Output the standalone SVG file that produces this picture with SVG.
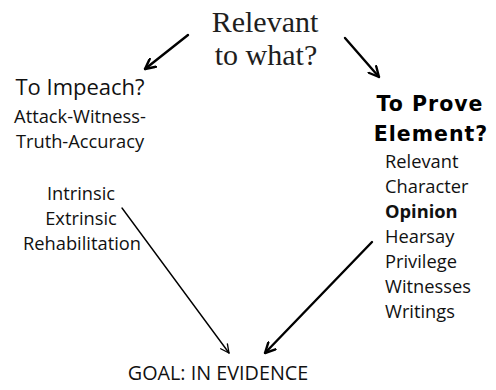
<svg xmlns="http://www.w3.org/2000/svg" width="496" height="390" viewBox="0 0 496 390">
  <style>
    .title { font-family: "Liberation Serif", "Times New Roman", serif; font-size: 30px; fill: #1e1e1e; text-anchor: middle; }
    .body { font-family: "Open Sans", "Liberation Sans", sans-serif; font-size: 18.3px; fill: #111; }
    .head { font-family: "Open Sans", "Liberation Sans", sans-serif; font-size: 22px; fill: #111; }
    .goal { font-family: "Open Sans", "Liberation Sans", sans-serif; font-size: 19.8px; fill: #111; text-anchor: middle; }
    .bold { font-family: "DejaVu Sans", Verdana, sans-serif; font-weight: bold; font-size: 20.5px; fill: #000; text-anchor: middle; letter-spacing: 1px; }
    .mid { text-anchor: middle; }
    .conn { fill: none; stroke: #000; stroke-linecap: round; }
    .thick { stroke-width: 2.4; }
    .thin { stroke-width: 1.4; }
    .head-line { fill: none; stroke: #000; stroke-linecap: round; stroke-linejoin: round; }
  </style>
  <defs>
    <marker id="arrow-thick" viewBox="0 0 12 12" refX="11" refY="6" markerWidth="12" markerHeight="12" markerUnits="userSpaceOnUse" orient="auto">
      <path d="M1,1 L11,6 L1,11" class="head-line" stroke-width="2.4"/>
    </marker>
    <marker id="arrow-thin" viewBox="0 0 12 12" refX="11" refY="6" markerWidth="10" markerHeight="10" markerUnits="userSpaceOnUse" orient="auto">
      <path d="M1,1 L11,6 L1,11" class="head-line" stroke-width="1.6"/>
    </marker>
  </defs>

  <g id="question">
    <text class="title" x="265" y="32">Relevant</text>
    <text class="title" x="266" y="65">to what?</text>
  </g>

  <g id="impeach">
    <text class="head mid" x="80" y="95">To Impeach?</text>
    <text class="body mid" x="80" y="123">Attack-Witness-</text>
    <text class="body mid" x="80" y="148">Truth-Accuracy</text>
  </g>

  <g id="impeach-methods">
    <text class="body mid" x="81" y="200">Intrinsic</text>
    <text class="body mid" x="81" y="225">Extrinsic</text>
    <text class="body mid" x="82" y="250">Rehabilitation</text>
  </g>

  <g id="prove-element">
    <text class="bold" x="430" y="111">To Prove</text>
    <text class="bold" x="431" y="141">Element?</text>
  </g>

  <g id="element-topics" class="body">
    <text x="385" y="168">Relevant</text>
    <text x="385" y="193">Character</text>
    <text x="385" y="218" font-weight="bold">Opinion</text>
    <text x="385" y="243">Hearsay</text>
    <text x="385" y="268">Privilege</text>
    <text x="385" y="293">Witnesses</text>
    <text x="385" y="318">Writings</text>
  </g>

  <g id="goal">
    <text class="goal" x="218" y="380">GOAL: IN EVIDENCE</text>
  </g>

  <g id="connectors">
    <line class="conn thick" x1="188" y1="35" x2="145" y2="69" marker-end="url(#arrow-thick)"/>
    <line class="conn thick" x1="345" y1="38" x2="379" y2="77" marker-end="url(#arrow-thick)"/>
    <line class="conn thin" x1="122" y1="208" x2="229" y2="353" marker-end="url(#arrow-thin)"/>
    <line class="conn thick" x1="372" y1="242" x2="265" y2="353" marker-end="url(#arrow-thick)"/>
  </g>
</svg>
